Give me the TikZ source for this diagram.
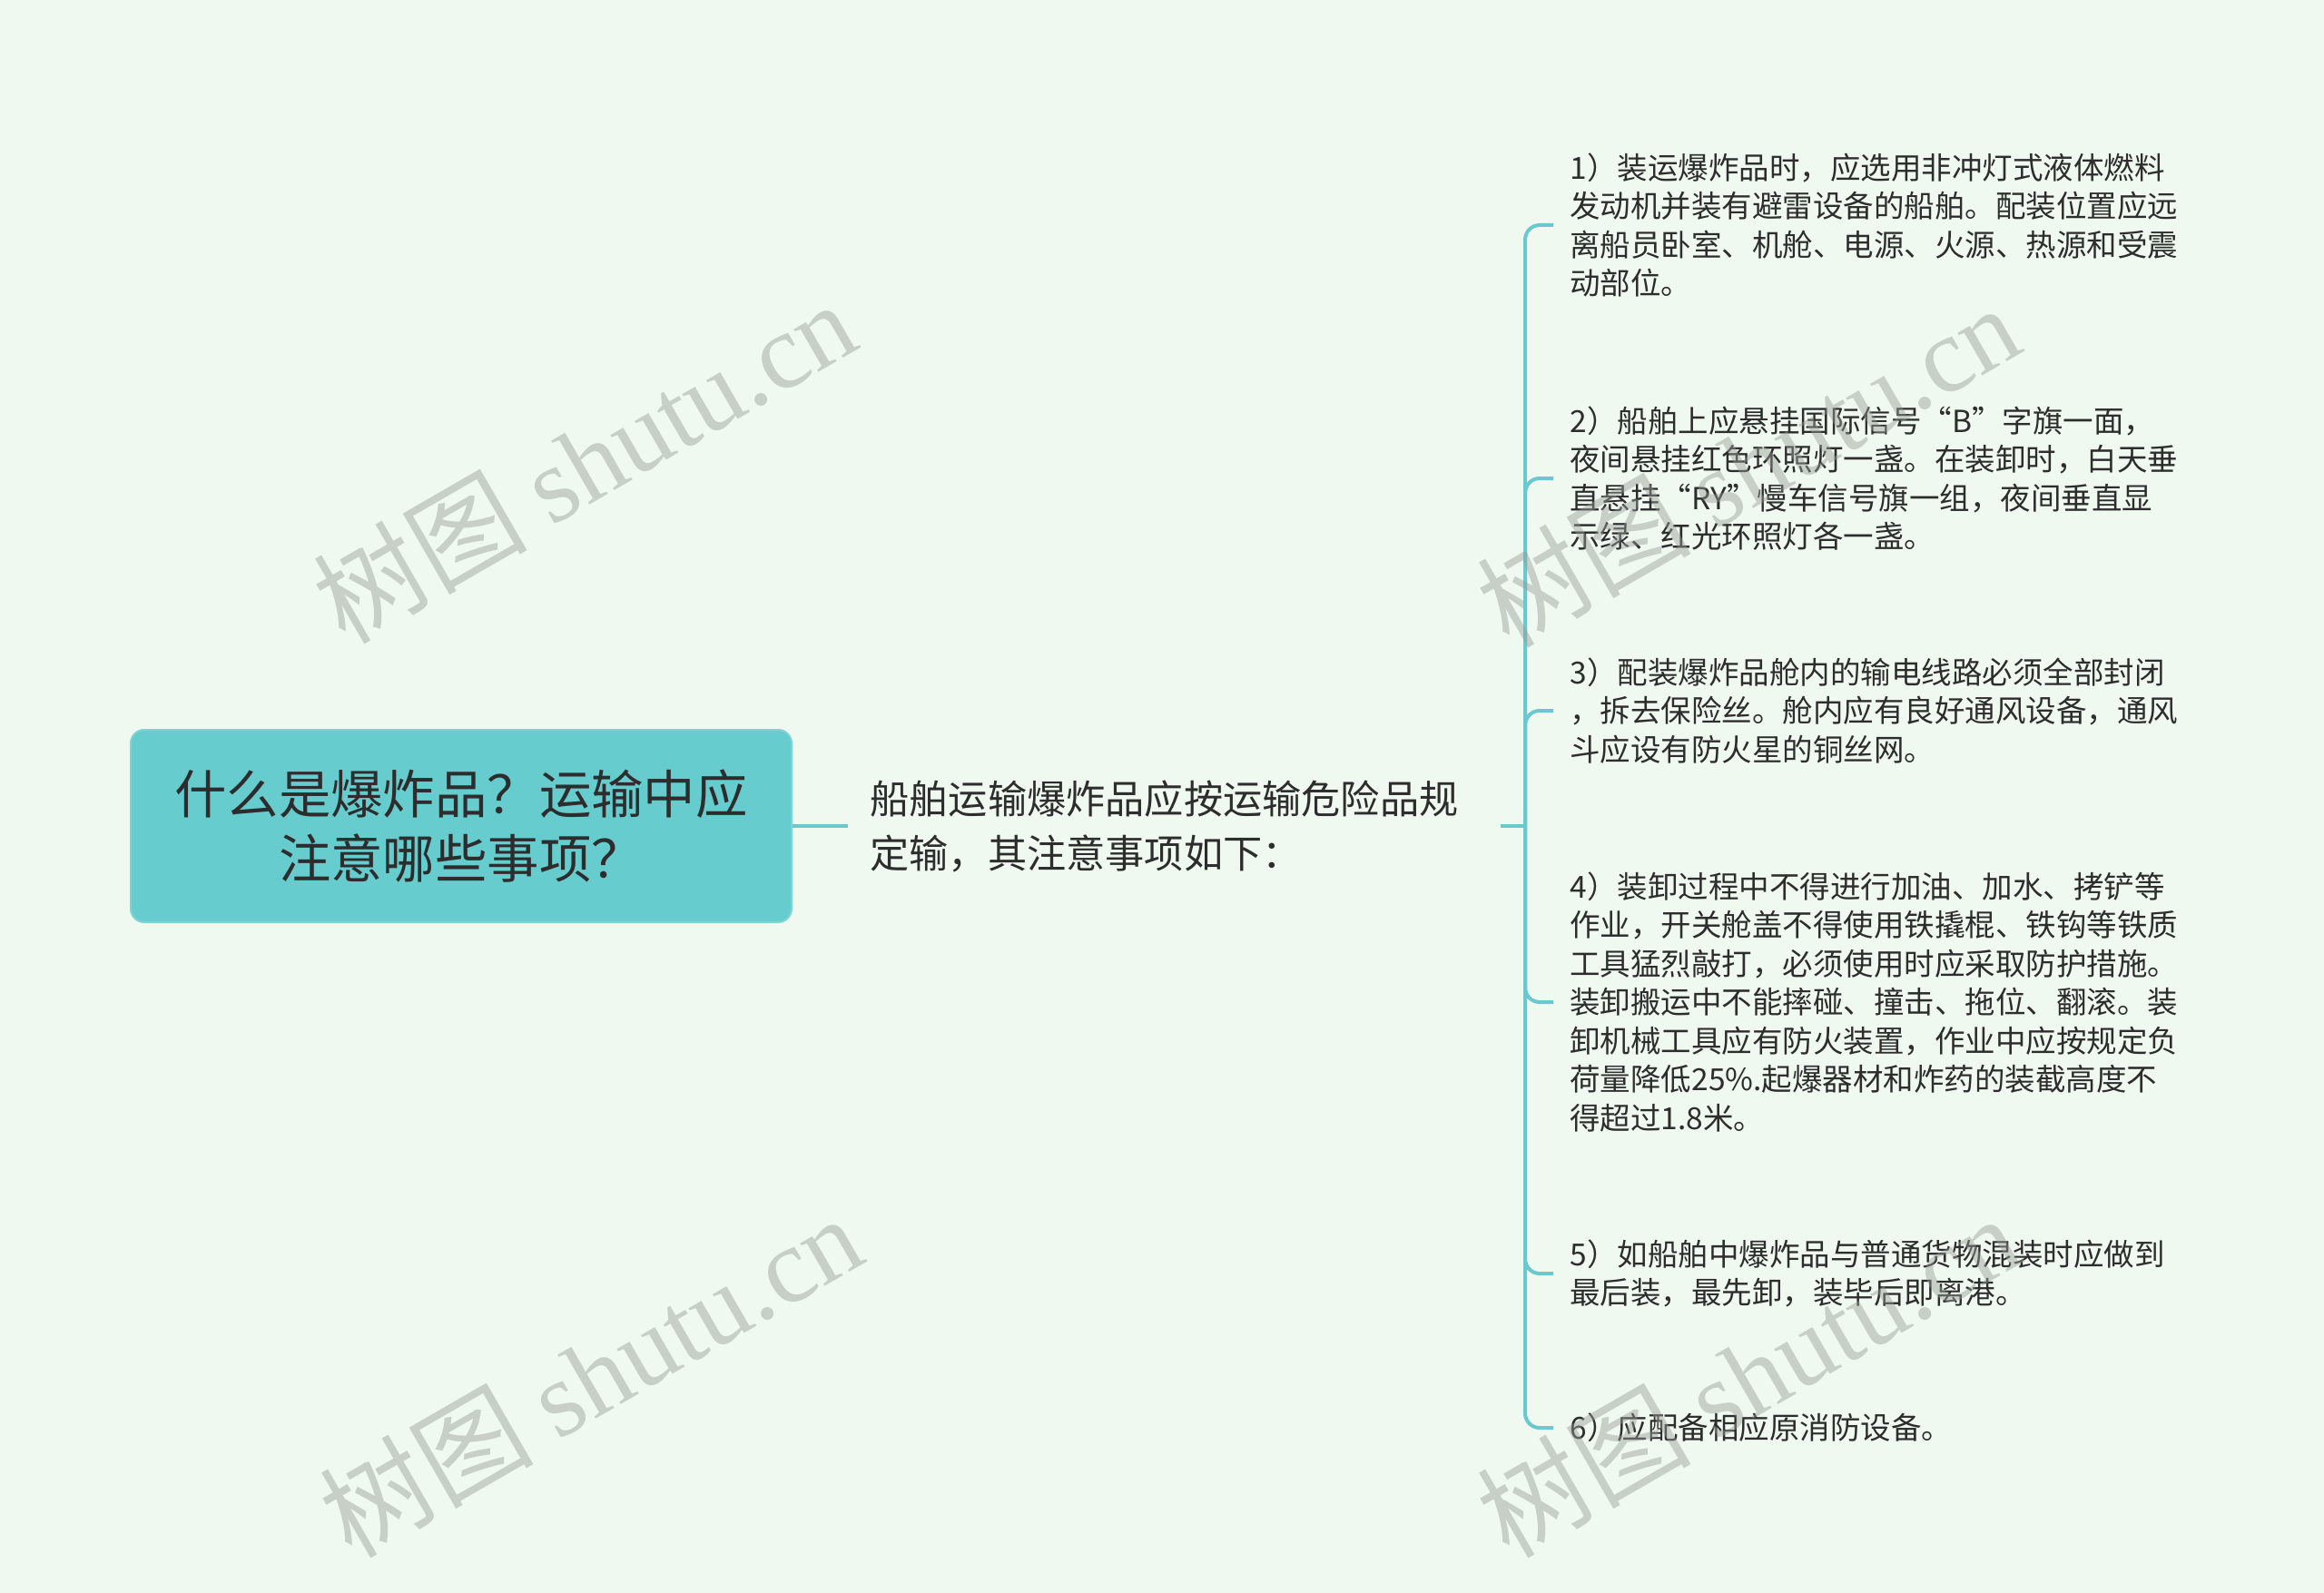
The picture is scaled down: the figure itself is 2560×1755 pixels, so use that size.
\documentclass[tikz,border=0pt]{standalone}
\usepackage{fontspec}
\setmainfont{Noto Sans CJK SC}
\newfontfamily\wmcjk{Noto Sans CJK SC}
\newfontfamily\wmlatin{Liberation Serif}
\definecolor{bgc}{RGB}{240,249,240}
\definecolor{rootfill}{RGB}{102,204,206}
\definecolor{linec}{RGB}{106,200,206}
\definecolor{txtc}{RGB}{45,45,45}
\definecolor{wmc}{RGB}{150,156,150}
\tikzset{
  rootbox/.style={fill=rootfill, draw=rootfill!85!white, line width=1pt, rounded corners=7.5pt,
    minimum width=364pt, minimum height=106pt, align=center, text=txtc,
    font=\fontsize{28.7pt}{35.5pt}\selectfont, inner sep=0pt},
  midbox/.style={align=left, text=txtc, inner xsep=12pt, inner ysep=0pt,
    font=\fontsize{21.6pt}{30pt}\selectfont},
  itembox/.style={align=left, text=txtc, inner xsep=9pt, inner ysep=0pt, anchor=west,
    font=\fontsize{16.75pt}{21.25pt}\selectfont},
  conn/.style={draw=linec, line width=2pt},
  wmk/.style={text=wmc, opacity=0.45, rotate=30, inner sep=0pt}
}
\begin{document}
\begin{tikzpicture}[x=0.5pt,y=-0.5pt]
\fill[bgc] (0,0) rectangle (2560,1755);
\useasboundingbox (0,0) rectangle (2560,1755);

\node[rootbox] (root) at (508,910) {什么是爆炸品？运输中应\\注意哪些事项？};
\node[midbox, anchor=west] (mid) at (934,910) {船舶运输爆炸品应按运输危险品规\\定输，其注意事项如下：};
\coordinate (hub) at (1680,910);

\node[itembox] (i1) at (1711,248) {1）装运爆炸品时，应选用非冲灯式液体燃料\\发动机并装有避雷设备的船舶。配装位置应远\\离船员卧室、机舱、电源、火源、热源和受震\\动部位。};
\node[itembox] (i2) at (1711,527) {2）船舶上应悬挂国际信号“B”字旗一面，\\夜间悬挂红色环照灯一盏。在装卸时，白天垂\\直悬挂“RY”慢车信号旗一组，夜间垂直显\\示绿、红光环照灯各一盏。};
\node[itembox] (i3) at (1711,783) {3）配装爆炸品舱内的输电线路必须全部封闭\\，拆去保险丝。舱内应有良好通风设备，通风\\斗应设有防火星的铜丝网。};
\node[itembox] (i4) at (1711,1104) {4）装卸过程中不得进行加油、加水、拷铲等\\作业，开关舱盖不得使用铁撬棍、铁钩等铁质\\工具猛烈敲打，必须使用时应采取防护措施。\\装卸搬运中不能摔碰、撞击、拖位、翻滚。装\\卸机械工具应有防火装置，作业中应按规定负\\荷量降低25\%.起爆器材和炸药的装截高度不\\得超过1.8米。};
\node[itembox] (i5) at (1711,1403) {5）如船舶中爆炸品与普通货物混装时应做到\\最后装，最先卸，装毕后即离港。};
\node[itembox] (i6) at (1711,1573) {6）应配备相应原消防设备。};

\draw[conn] (root.east) -- (mid.west);
\draw[conn] ([xshift=11pt]mid.east) -- (hub);
\foreach \n in {i1,i2,i3,i4,i5,i6}{
  \draw[conn, rounded corners=8pt] (hub) |- (\n.west);
}

\node[wmk] (w1) at (643,508) {\fontsize{59pt}{59pt}\wmcjk 树图 \wmlatin shutu.cn};
\node[wmk] (w2) at (1925,512) {\fontsize{59pt}{59pt}\wmcjk 树图 \wmlatin shutu.cn};
\node[wmk] (w3) at (650,1515) {\fontsize{59pt}{59pt}\wmcjk 树图 \wmlatin shutu.cn};
\node[wmk] (w4) at (1925,1515) {\fontsize{59pt}{59pt}\wmcjk 树图 \wmlatin shutu.cn};
\end{tikzpicture}
\end{document}
